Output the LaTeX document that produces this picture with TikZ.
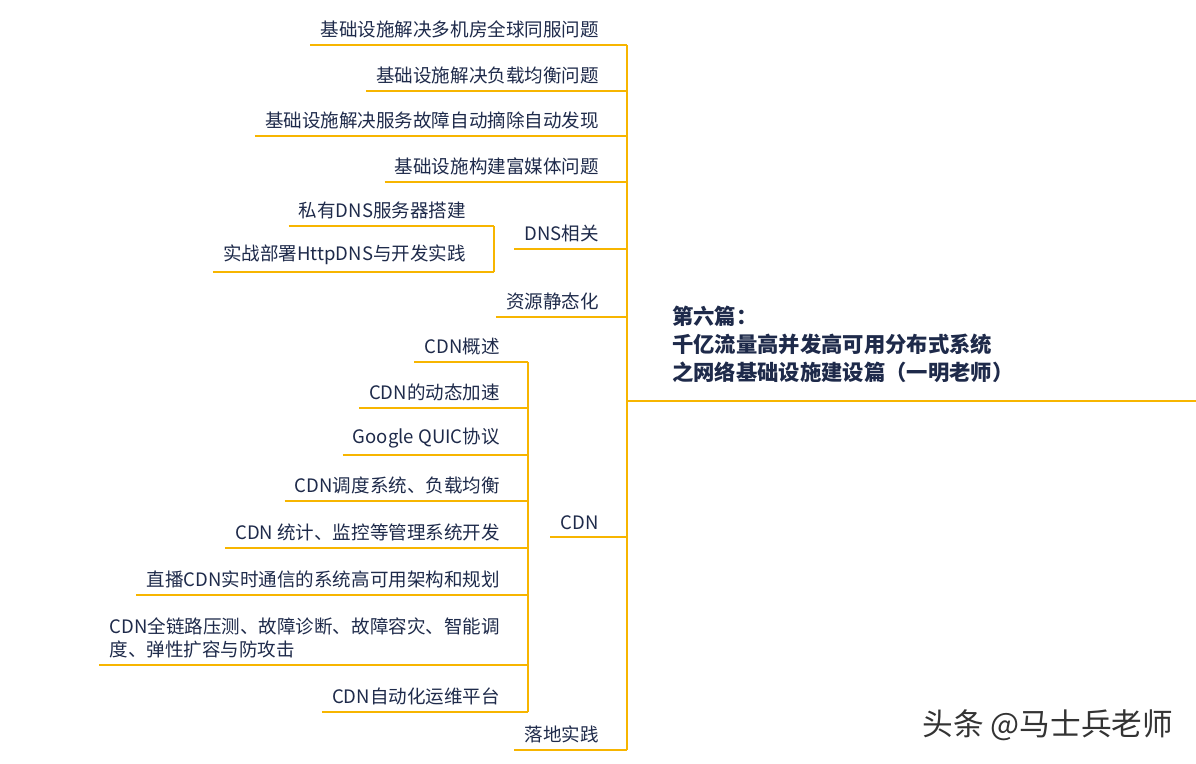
\documentclass[tikz,border=0pt]{standalone}
\usepackage{fontspec}
\setmainfont{Noto Sans CJK SC}
\definecolor{branch}{HTML}{F7B500}
\definecolor{ink}{HTML}{1E2A4A}
\tikzset{%
  leaf/.style  = {anchor=south east, inner xsep=7.5pt, inner ysep=5pt, text=ink,
    font=\fontsize{13.9pt}{17pt}\selectfont},
  topic/.style = {anchor=south west, align=left, text=ink, inner sep=0pt,
    font=\bfseries\fontsize{16pt}{21pt}\selectfont},
  link/.style  = {draw=branch, line width=1.3pt}
}
\begin{document}
\begin{tikzpicture}[x=0.75pt, y=-0.75pt]
  \useasboundingbox (0,0) rectangle (1196,764);
  % root
  \node[topic] (root) at (672,383) {第六篇：\\千亿流量高并发高可用分布式系统\\之网络基础设施建设篇（一明老师）};
  \coordinate (rootL) at (627,401);
  \coordinate (rootR) at (1196,401);
  \draw[link] (rootL) -- (rootR);
  % first level
  \foreach \y/\name/\txt in {45/a1/基础设施解决多机房全球同服问题, 91/a2/基础设施解决负载均衡问题,
      136/a3/基础设施解决服务故障自动摘除自动发现, 182/a4/基础设施构建富媒体问题,
      249/dns/DNS相关, 317/res/资源静态化, 537/cdn/CDN, 750/land/落地实践} {
    \node[leaf] (\name) at (609,\y) {\txt};
    \draw[link] (\name.south west) -- (627,\y);
  }
  \draw[link] (a1.south -| rootL) -- (land.south -| rootL);
  % DNS
  \foreach \y/\name/\txt in {226/d1/私有DNS服务器搭建, 272/d2/实战部署HttpDNS与开发实践} {
    \node[leaf] (\name) at (476,\y) {\txt};
    \draw[link] (\name.south west) -- (494,\y);
  }
  \draw[link] (494,226) -- (494,272);
  % CDN
  \foreach \y/\name/\txt in {362/c1/CDN概述, 408/c2/CDN的动态加速, 455/c3/Google QUIC协议,
      501/c4/CDN调度系统、负载均衡, 548/c5/CDN 统计、监控等管理系统开发,
      595/c6/直播CDN实时通信的系统高可用架构和规划, 712/c8/CDN自动化运维平台} {
    \node[leaf] (\name) at (510,\y) {\txt};
    \draw[link] (\name.south west) -- (528,\y);
  }
  \node[leaf, align=left] (c7) at (510,665) {CDN全链路压测、故障诊断、故障容灾、智能调\\度、弹性扩容与防攻击};
  \draw[link] (c7.south west) -- (528,665);
  \draw[link] (528,362) -- (528,712);
  % watermark
  \node[text=black!80, font=\fontsize{23pt}{26pt}\selectfont] (mark) at (1048,725) {头条 @马士兵老师};
\end{tikzpicture}
\end{document}
